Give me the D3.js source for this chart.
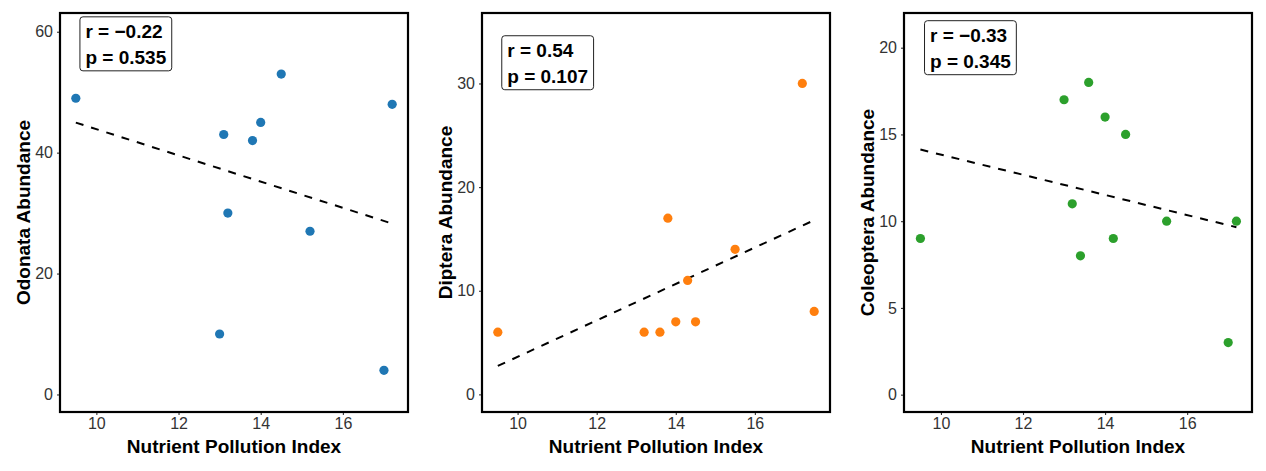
<!DOCTYPE html>
<html>
<head>
<meta charset="utf-8">
<script src="https://cdn.jsdelivr.net/npm/d3@7"></script>
<style>
  body { margin: 0; background: #fff; }
  text { font-family: "Liberation Sans", Arial, sans-serif; }
</style>
</head>
<body>
<div id="chart"></div>
<script>
// nutrient pollution index per sample
var npiOdonata = [9.5, 13.0, 13.1, 13.2, 13.8, 14.0, 14.5, 15.2, 17.0, 17.2];
var odonata = [49, 10, 43, 30, 42, 45, 53, 27, 4, 48];

var npiDiptera = [9.5, 13.2, 13.6, 13.8, 14.0, 14.3, 14.5, 15.5, 17.2, 17.5];
var diptera = [6, 6, 6, 17, 7, 11, 7, 14, 30, 8];

var npiColeoptera = [9.5, 13.0, 13.2, 13.4, 13.6, 14.0, 14.2, 14.5, 15.5, 17.0, 17.2];
var coleoptera = [9, 17, 11, 8, 18, 16, 9, 15, 10, 3, 10];

var taxa = ['Odonata', 'Diptera', 'Coleoptera'];
var colors = ['#1f77b4', '#ff7f0e', '#2ca02c'];
var rLabels = ['r = \u22120.22', 'r = 0.54', 'r = \u22120.33'];
var pLabels = ['p = 0.535', 'p = 0.107', 'p = 0.345'];

var xTicks = [10, 12, 14, 16];
var yTicks = [[0, 20, 40, 60], [0, 10, 20, 30], [0, 5, 10, 15, 20]];

// axis ranges (with ggplot style padding) and where the stats label sits
var xDomains = [[9.115, 17.585], [9.1, 17.9], [9.1, 17.58]];
var yDomains = [[-2.9, 63.1], [-1.7, 36.8], [-1.0, 22.0]];
var labelX = 9.6;
var labelY = [58, 32, 20];

var xs = [npiOdonata, npiDiptera, npiColeoptera];
var ys = [odonata, diptera, coleoptera];

var W = 1266, H = 471;
var facetW = W / 3;
var margin = {top: 13, right: 14, bottom: 59, left: 60};
var pw = facetW - margin.left - margin.right;
var ph = H - margin.top - margin.bottom;

var svg = d3.select('#chart').append('svg')
    .attr('width', W)
    .attr('height', H);

function fit(x, y) {
    var mx = d3.mean(x), my = d3.mean(y);
    var sxy = 0, sxx = 0;
    for (var i = 0; i < x.length; i++) {
        sxy += (x[i] - mx) * (y[i] - my);
        sxx += (x[i] - mx) * (x[i] - mx);
    }
    var b = sxy / sxx;
    return function (v) { return my + b * (v - mx); };
}

taxa.forEach(function (name, k) {
    var g = svg.append('g')
        .attr('transform', `translate(${k * facetW + margin.left},${margin.top})`);

    var x = d3.scaleLinear().domain(xDomains[k]).range([0, pw]);
    var y = d3.scaleLinear().domain(yDomains[k]).range([ph, 0]);

    // y axis
    var ay = g.append('g')
        .call(d3.axisLeft(y).tickValues(yTicks[k]).tickSize(3).tickPadding(4).tickFormat(d3.format('d')));
    ay.select('.domain').remove();
    ay.selectAll('line').attr('stroke', '#333').attr('stroke-width', 1.1);
    ay.selectAll('text').attr('fill', '#333').style('font-size', '16px')
        .style('font-family', '"Liberation Sans", Arial, sans-serif');

    // x axis
    var ax = g.append('g')
        .attr('transform', `translate(0,${ph})`)
        .call(d3.axisBottom(x).tickValues(xTicks).tickSize(3).tickPadding(3).tickFormat(d3.format('d')));
    ax.select('.domain').remove();
    ax.selectAll('line').attr('stroke', '#333').attr('stroke-width', 1.1);
    ax.selectAll('text').attr('fill', '#333').style('font-size', '16px')
        .style('font-family', '"Liberation Sans", Arial, sans-serif');

    // fitted line
    var f = fit(xs[k], ys[k]);
    var ext = d3.extent(xs[k]);
    g.append('path')
        .datum(ext)
        .attr('d', d3.line().x(d => x(d)).y(d => y(f(d))))
        .attr('fill', 'none')
        .attr('stroke', '#000')
        .attr('stroke-width', 2)
        .attr('stroke-dasharray', '8,8');

    // points
    g.append('g').selectAll('circle')
        .data(xs[k])
        .enter()
        .append('circle')
        .attr('cx', d => x(d))
        .attr('cy', (d, i) => y(ys[k][i]))
        .attr('r', 4.6)
        .attr('fill', colors[k]);

    // stats label
    var lx = x(labelX), ly = y(labelY[k]);
    var box = g.append('rect')
        .attr('rx', 3)
        .attr('fill', '#fff')
        .attr('stroke', '#222')
        .attr('stroke-width', 1);
    var t1 = g.append('text')
        .attr('x', lx + 5.5).attr('y', ly - 27 + 21.3)
        .style('font-size', '19px').style('font-weight', 'bold')
        .text(rLabels[k]);
    var t2 = g.append('text')
        .attr('x', lx + 5.5).attr('y', ly - 27 + 47.3)
        .style('font-size', '19px').style('font-weight', 'bold')
        .text(pLabels[k]);
    var tw = Math.max(t1.node().getComputedTextLength(), t2.node().getComputedTextLength());
    box.attr('x', lx).attr('y', ly - 27).attr('width', tw + 11).attr('height', 54);

    // panel border
    g.append('rect')
        .attr('width', pw).attr('height', ph)
        .attr('fill', 'none')
        .attr('stroke', '#000')
        .attr('stroke-width', 2.2);

    // titles
    g.append('text')
        .attr('x', pw / 2).attr('y', ph + 41)
        .attr('text-anchor', 'middle')
        .style('font-size', '19px').style('font-weight', 'bold')
        .text('Nutrient Pollution Index');

    g.append('text')
        .attr('transform', `translate(${30 - margin.left},${ph / 2}) rotate(-90)`)
        .attr('text-anchor', 'middle')
        .style('font-size', '19px').style('font-weight', 'bold')
        .text(name + ' Abundance');
});
</script>
</body>
</html>
